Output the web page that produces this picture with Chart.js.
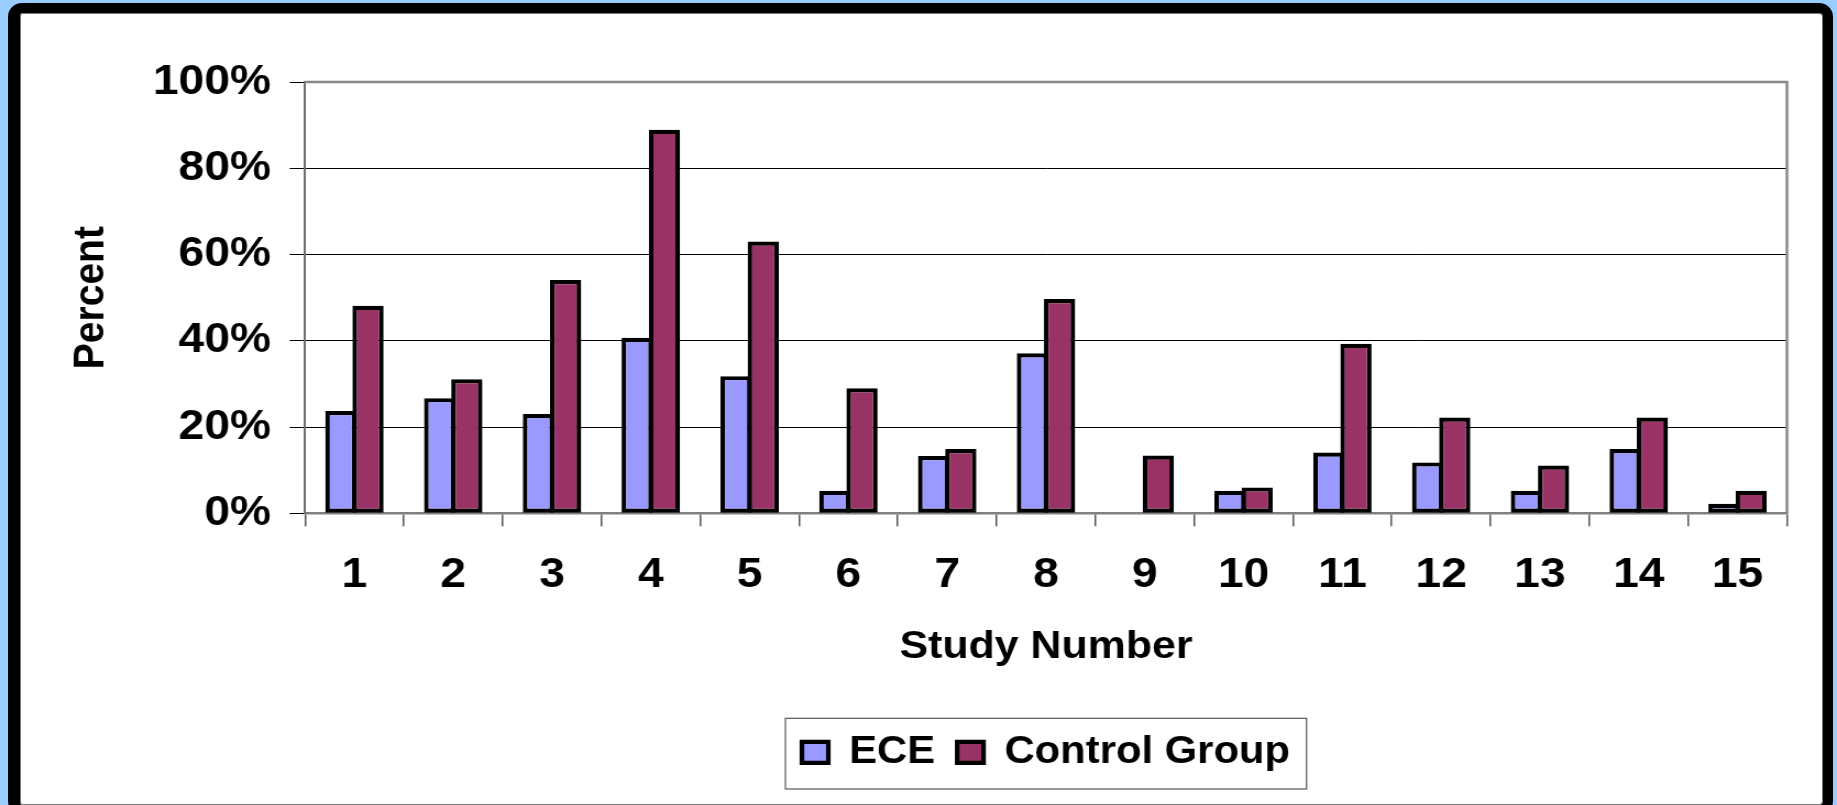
<!DOCTYPE html>
<html>
<head>
<meta charset="utf-8">
<script src="https://cdn.jsdelivr.net/npm/chart.js@4.4.1/dist/chart.umd.min.js"></script>
<style>
html, body { margin:0; padding:0; width:1837px; height:805px; overflow:hidden; background:#99CCFF; }
#frame { position:absolute; left:8px; top:3px; width:1825px; height:812px; box-sizing:border-box;
  border-style:solid; border-color:#000; border-width:10px 10px 10px 12px; border-radius:14px;
  background:#fff; box-shadow: inset 0 0 0 1px #777; }
#c { position:absolute; left:0; top:0; }
</style>
</head>
<body>
<div id="frame"></div>
<canvas id="c" width="1670" height="805" style="width:1837px;height:805px"></canvas>
<script>
// ---- data ----
const categories = ['1','2','3','4','5','6','7','8','9','10','11','12','13','14','15'];
const eceValues = [23.7, 26.7, 23.0, 40.7, 31.8, 5.2, 13.3, 37.1, 0, 5.2, 14.1, 11.8, 5.2, 14.9, 2.2];
const controlValues = [48.1, 31.1, 54.1, 88.9, 63.0, 29.0, 14.9, 49.7, 13.4, 6.0, 39.3, 22.2, 11.1, 22.2, 5.2];
const seriesNames = ['ECE', 'Control Group'];
const yTickValues = [0, 20, 40, 60, 80, 100];
const xTitle = 'Study Number';
const yTitle = 'Percent';

const FAMILY = '"Liberation Sans", Arial, sans-serif';

const plotBorder = {
  id: 'plotBorder',
  afterDraw(chart) {
    const {ctx, chartArea: a} = chart;
    ctx.save();
    ctx.strokeStyle = '#888';
    ctx.lineWidth = 2.5;
    ctx.beginPath();
    ctx.moveTo(a.left, a.top);
    ctx.lineTo(a.right, a.top);
    ctx.lineTo(a.right, a.bottom);
    ctx.stroke();
    ctx.restore();
  }
};

const legendBorder = {
  id: 'legendBorder',
  afterDraw(chart) {
    const lg = chart.legend;
    if (!lg || !lg.legendHitBoxes || !lg.legendHitBoxes.length) return;
    const hb = lg.legendHitBoxes;
    const left = Math.min(...hb.map(h => h.left)) - 15;
    const right = Math.max(...hb.map(h => h.left + h.width)) + 15;
    const top = hb[0].top - 15;
    const bottom = hb[0].top + hb[0].height + 17.7;
    const ctx = chart.ctx;
    ctx.save();
    ctx.strokeStyle = '#555';
    ctx.lineWidth = 1.2;
    ctx.strokeRect(left, top, right - left, bottom - top);
    ctx.restore();
  }
};

new Chart(document.getElementById('c'), {
  type: 'bar',
  data: {
    labels: categories,
    datasets: [
      { label: seriesNames[0], data: eceValues, backgroundColor: '#9999FF', borderColor: '#000', borderWidth: 4.2,
        borderSkipped: false, categoryPercentage: 0.55, barPercentage: 1.15 },
      { label: seriesNames[1], data: controlValues, backgroundColor: '#993366', borderColor: '#000', borderWidth: 4.2,
        borderSkipped: false, categoryPercentage: 0.55, barPercentage: 1.15 }
    ]
  },
  options: {
    responsive: false,
    animation: false,
    devicePixelRatio: 1,
    layout: { padding: { top: 82, left: 60.2, right: 45.5, bottom: 23.7 } },
    plugins: {
      legend: {
        position: 'bottom',
        fullSize: false,
        labels: { font: { family: FAMILY, size: 38, weight: 'bold' }, color: '#000', boxWidth: 24, boxHeight: 21, padding: 20 }
      },
      tooltip: { enabled: false }
    },
    scales: {
      x: {
        grid: { offset: true, drawOnChartArea: false, tickLength: 13, color: '#555', lineWidth: 1.5 },
        border: { color: '#808080', width: 2.5 },
        ticks: { font: { family: FAMILY, size: 42, weight: 'bold' }, color: '#000', padding: 23.8, maxRotation: 0, autoSkip: false },
        title: { display: true, text: xTitle, font: { family: FAMILY, size: 39, weight: 'bold' }, color: '#000', padding: { top: 0, bottom: 42.5 } },
        afterFit(s) { s.height = 200; }
      },
      y: {
        min: 0, max: 100,
        afterBuildTicks(s) { s.ticks = yTickValues.map(v => ({ value: v })); },
        grid: { color: '#000', lineWidth: 1, tickLength: 14, tickColor: '#000' },
        border: { color: '#707070', width: 2 },
        ticks: { font: { family: FAMILY, size: 42, weight: 'bold' }, color: '#000', padding: 16.9, callback: v => v + '%' },
        title: { display: true, text: yTitle, font: { family: FAMILY, size: 39, weight: 'bold' }, color: '#000', padding: { top: 0, bottom: 0 } },
        afterFit(s) { s.width = 217.1; }
      }
    }
  },
  plugins: [plotBorder, legendBorder]
});
</script>
</body>
</html>
